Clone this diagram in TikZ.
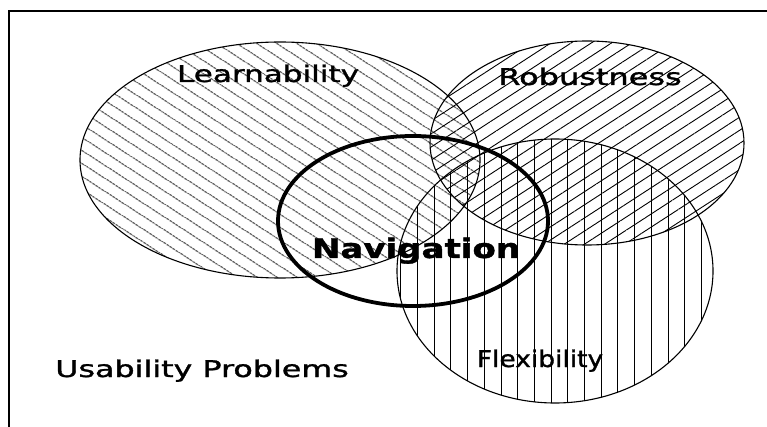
\documentclass[tikz,border=0pt]{standalone}
\usepackage{fontspec}
\setmainfont{DejaVu Sans}
\newfontfamily\tagfont[FakeBold=1.2]{DejaVu Sans}
\newfontfamily\navfont[FakeBold=1.2]{DejaVu Sans Bold}
\usepackage{graphicx}
\usetikzlibrary{patterns.meta}
\newcommand{\widetext}[2]{\scalebox{#1}[1]{#2}}
\tikzset{
  area/.style     = {draw=black, line width=1.1pt},
  hatchback/.style = {pattern={Lines[angle=-33, distance=10.5pt, line width=0.9pt]}},
  hatchfwd/.style  = {pattern={Lines[angle=33, distance=11pt, line width=0.9pt]}},
  hatchvert/.style = {pattern={Lines[angle=90, distance=16.7pt, line width=1pt]}},
  focus/.style    = {draw=black, line width=3.8pt},
  tag/.style      = {inner sep=0pt, anchor=base, font=\tagfont\fontsize{23}{27}\selectfont},
  bigtag/.style   = {tag, font=\navfont\fontsize{27}{31}\selectfont}
}
\begin{document}
\begin{tikzpicture}[x=1pt, y=-1pt]
\useasboundingbox (0,0) rectangle (767,427);
% frame (only top and left edge are in view)
\draw[line width=2.4pt] (9,427) -- (9,11) -- (767,11);

% the three usability areas
\draw[area, hatchback] (280,160) ellipse [x radius=200, y radius=118];
\draw[area, hatchfwd]  (587,143) ellipse [x radius=157, y radius=102];
\draw[area, hatchvert] (555,271) ellipse [x radius=158, y radius=132];

% navigation
\draw[focus] (413,221) ellipse [x radius=135, y radius=85];

\node[tag]    at (268, 82) (learn) {\widetext{1.35}{Learnability}};
\node[tag]    at (590, 85) (robust) {\widetext{1.39}{Robustness}};
\node[bigtag] at (416,258) (nav)   {\widetext{1.26}{Navigation}};
\node[tag]    at (540,367) (flex)  {\widetext{1.15}{Flexibility}};
\node[tag]    at (202,377) (usab)  {\widetext{1.38}{Usability Problems}};
\end{tikzpicture}
\end{document}
